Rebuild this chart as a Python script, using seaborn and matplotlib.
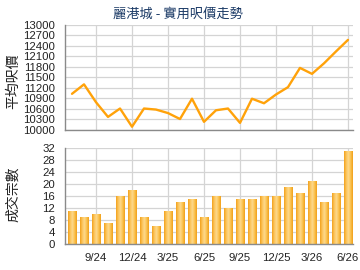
import matplotlib
matplotlib.use("Agg")
import matplotlib.pyplot as plt
import seaborn as sns
import pandas as pd
import numpy as np
from matplotlib.colors import LinearSegmentedColormap

sns.set_theme(style="white")
plt.rcParams['font.family'] = ['Noto Sans CJK TC', 'DejaVu Sans']

title = "麗港城 - 實用呎價走勢"
ylabel_top = "平均呎價"
ylabel_bottom = "成交宗數"

months = ["7/24", "8/24", "9/24", "10/24", "11/24", "12/24", "1/25", "2/25", "3/25",
          "4/25", "5/25", "6/25", "7/25", "8/25", "9/25", "10/25", "11/25", "12/25",
          "1/26", "2/26", "3/26", "4/26", "5/26", "6/26"]
price = [11030, 11300, 10790, 10370, 10610, 10090, 10610, 10580, 10480, 10310,
         10890, 10230, 10560, 10610, 10200, 10890, 10760, 11010, 11220, 11770,
         11600, 11900, 12240, 12570]
volume = [11, 9, 10, 7, 16, 18, 9, 6, 11, 14, 15, 9, 16, 12, 15, 15, 16, 16,
          19, 17, 21, 14, 17, 31]
tick_labels = ["9/24", "12/24", "3/25", "6/25", "9/25", "12/25", "3/26", "6/26"]
price_ticks = [10000, 10300, 10600, 10900, 11200, 11500, 11800, 12100, 12400, 12700, 13000]
volume_ticks = [0, 4, 8, 12, 16, 20, 24, 28, 32]

df = pd.DataFrame({"idx": np.arange(len(months)), "month": months,
                   "price": price, "volume": volume})
tick_pos = [months.index(t) for t in tick_labels]

fig = plt.figure(figsize=(3.6, 2.7), dpi=100)
ax1 = fig.add_axes([0.1806, 0.519, 0.8, 0.389])
ax2 = fig.add_axes([0.1806, 0.0963, 0.8, 0.357])

grid_c = "#d4d4d4"
spine_c = "#8a8a8a"
xl = (-0.583, 23.42)

sns.lineplot(data=df, x="idx", y="price", ax=ax1, color="#FFA20A", linewidth=1.7)
ax1.set_xlim(*xl)
ax1.set_ylim(10000, 13000)
ax1.set_yticks(price_ticks)
ax1.set_xticks(tick_pos)
ax1.set_xticklabels([])
ax1.set_xlabel("")
ax1.set_ylabel("")

sns.barplot(data=df, x="idx", y="volume", ax=ax2, color="#F9B53A",
            width=0.7, saturation=1, edgecolor="#F2A216", linewidth=0.6,
            native_scale=True)
ax2.set_xlim(*xl)
ax2.set_ylim(0, 32)

# horizontal gradient fill for each bar, clipped to the bar patch
cmap = LinearSegmentedColormap.from_list(
    "barg", ["#F3A21C", "#FBC45A", "#FDD98C", "#FBC24E", "#F0A01A"])
grad = np.linspace(0, 1, 64).reshape(1, -1)
for p in list(ax2.patches):
    x0, y0 = p.get_x(), p.get_y()
    w, h = p.get_width(), p.get_height()
    im = ax2.imshow(grad, cmap=cmap, aspect="auto",
                    extent=[x0, x0 + w, y0, y0 + h], zorder=p.get_zorder() + 0.1)
    im.set_clip_path(p)
ax2.set_xlim(*xl)
ax2.set_ylim(0, 32)
ax2.set_yticks(volume_ticks)
ax2.set_xticks(tick_pos)
ax2.set_xticklabels(tick_labels)
ax2.set_xlabel("")
ax2.set_ylabel("")

for ax in (ax1, ax2):
    ax.set_axisbelow(True)
    ax.grid(True, color=grid_c, linewidth=0.9)
    for s in ("top", "right"):
        ax.spines[s].set_visible(False)
    for s in ("left", "bottom"):
        ax.spines[s].set_color(spine_c)
        ax.spines[s].set_linewidth(1.0)
        ax.spines[s].set_zorder(5)
    ax.tick_params(axis="both", labelsize=8.2, colors="#222222", length=0, pad=2)
    ax.tick_params(axis="y", pad=7)
    for lab in ax.get_xticklabels() + ax.get_yticklabels():
        lab.set_family(['Liberation Sans', 'DejaVu Sans'])
ax2.tick_params(axis="x", length=3.5, color=spine_c, direction="out", pad=3)

fig.text(0.495, 0.947, title, ha="center", va="center", fontsize=9.5, color="#1B3A66")
fig.text(0.036, 0.70, ylabel_top, ha="center", va="center", rotation=90, fontsize=10, color="#222222")
fig.text(0.036, 0.28, ylabel_bottom, ha="center", va="center", rotation=90, fontsize=10, color="#222222")

fig.savefig("out.png", dpi=100)
